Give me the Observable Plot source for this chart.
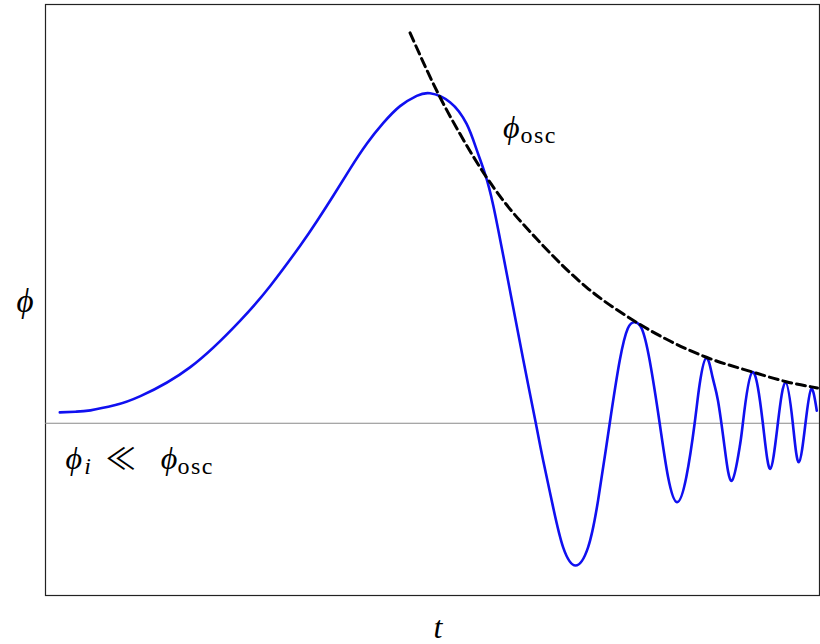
<!DOCTYPE html>
<html>
<head>
<meta charset="utf-8">
<script src="https://cdn.jsdelivr.net/npm/d3@7"></script>
<script src="https://cdn.jsdelivr.net/npm/@observablehq/plot@0.6"></script>
<style>
  html, body { margin: 0; padding: 0; background: #fff; }
  #chart svg { display: block; }
  #chart svg text { font-family: "Liberation Serif", "DejaVu Serif", serif !important; }
</style>
</head>
<body>
<div id="chart"></div>
<script>
// Field evolution φ(t): slow roll-up, then damped oscillation about zero.
const fieldT = [0.185, 0.387, 0.581, 0.903, 1.226, 1.871, 2.516, 2.903, 3.290, 3.506,
  3.720, 3.935, 4.151, 4.365, 4.581, 4.796, 4.968, 5.226, 5.441, 5.570,
  5.677, 5.785, 5.914, 6.043, 6.172, 6.335, 6.430, 6.559, 6.688, 6.848,
  7.010, 7.139, 7.290, 7.419, 7.523, 7.613, 7.703, 7.806, 7.935, 8.043,
  8.159, 8.280, 8.387, 8.452, 8.538, 8.619, 8.688, 8.774, 8.868, 8.968,
  9.010, 9.132, 9.268, 9.364, 9.462, 9.561, 9.655, 9.733, 9.819, 9.893,
  9.965];
const fieldPhi = [0.033, 0.035, 0.039, 0.055, 0.082, 0.170, 0.311, 0.416, 0.538, 0.612,
  0.690, 0.771, 0.847, 0.910, 0.961, 0.992, 1.000, 0.973, 0.907, 0.829,
  0.757, 0.660, 0.508, 0.351, 0.193, 0.000, -0.113, -0.255, -0.376, -0.431,
  -0.376, -0.234, 0.000, 0.190, 0.287, 0.306, 0.287, 0.190, 0.000, -0.162,
  -0.239, -0.162, 0.000, 0.119, 0.198, 0.139, 0.069, -0.073, -0.174, -0.073,
  0.000, 0.155, 0.000, -0.138, 0.000, 0.124, 0.000, -0.118, 0.000, 0.104,
  0.038];

// Oscillation envelope φ_osc(t)
const envT = [4.710, 5.097, 5.355, 5.699, 5.914, 6.345, 6.990, 7.635, 8.538, 9.139, 9.570, 9.974];
const envPhi = [1.183, 0.988, 0.877, 0.745, 0.675, 0.559, 0.412, 0.306, 0.200, 0.155, 0.126, 0.107];

// Annotation labels: position (t, φ), main symbol and subscript
const labelT = [5.91, 0.26];
const labelPhi = [0.863, -0.14];
const labelMain = ["ϕ", "ϕ"];
const labelSub = ["osc", "i"];

const field = fieldT.map((t, i) => ({t, phi: fieldPhi[i]}));
const envelope = envT.map((t, i) => ({t, phi: envPhi[i]}));

const chart = Plot.plot({
  width: 820,
  height: 644,
  marginLeft: 45,
  marginRight: 1,
  marginTop: 4,
  marginBottom: 49,
  x: {domain: [0, 10], axis: null},
  y: {domain: [-0.522, 1.269], axis: null},
  marks: [
    Plot.frame({stroke: "#222", strokeWidth: 1.2}),
    Plot.ruleY([0], {stroke: "#8a8a8a", strokeWidth: 1.2}),
    Plot.line(field, {x: "t", y: "phi", stroke: "#1010f0", strokeWidth: 2.6, curve: "natural"}),
    Plot.line(envelope, {x: "t", y: "phi", stroke: "#000", strokeWidth: 3, strokeDasharray: "9,5", curve: "monotone-x"}),
    // axis labels
    Plot.text(["t"], {x: 5.07, frameAnchor: "bottom", dy: 42, lineAnchor: "bottom", fontSize: 32, fontStyle: "italic", fill: "#000"}),
    Plot.text(["ϕ"], {y: 0.338, frameAnchor: "left", dx: -29, lineAnchor: "bottom", fontSize: 33, fontStyle: "italic", fill: "#000"}),
    // annotations with subscripts
    Plot.text(labelMain.map((m, i) => i), {
      x: i => labelT[i], y: i => labelPhi[i], text: i => labelMain[i],
      textAnchor: "start", lineAnchor: "bottom", fontSize: 32, fontStyle: "italic",
      fill: "#000", className: "sublab"
    })
  ]
});

// Subscripts (and the "≪ ϕ_osc" tail) as tspans
const sub = (el, text, italic) => el.append("tspan").attr("dy", 5)
  .attr("font-style", italic ? "italic" : "normal").attr("font-size", 24)
  .attr("letter-spacing", italic ? 0 : 1.5).text(text);
d3.select(chart).selectAll(".sublab text").each(function(i, k) {
  const el = d3.select(this);
  if (k === 0) {
    sub(el, labelSub[k], false).attr("dx", 1);
  } else {
    sub(el, labelSub[k], true).attr("dx", 2);
    el.append("tspan").attr("dy", -5).attr("dx", 15).attr("font-style", "normal")
      .attr("font-family", "'Noto Sans CJK JP', 'DejaVu Sans', sans-serif")
      .attr("font-size", 30).text("≪");
    el.append("tspan").attr("dx", 25).attr("font-style", "italic").attr("font-size", 32).text("ϕ");
    sub(el, "osc", false);
  }
});

document.getElementById("chart").appendChild(chart);
</script>
</body>
</html>
